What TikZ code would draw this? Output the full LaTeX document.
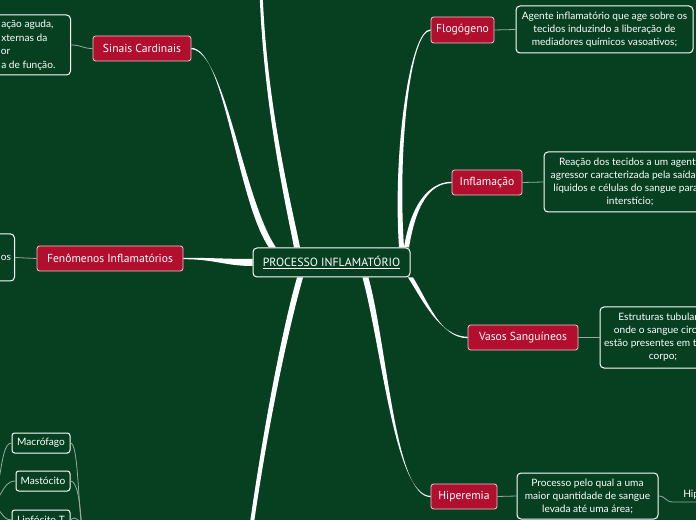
\documentclass[tikz,border=0pt]{standalone}
\usepackage{fontspec}
\setmainfont{Lato}
\newfontfamily\labelfont{PT Sans}
\usetikzlibrary{calc}

\definecolor{mapgreen}{RGB}{6,64,33}
\definecolor{topicred}{RGB}{178,14,45}
\definecolor{topicline}{RGB}{236,196,204}
\definecolor{connline}{RGB}{150,172,156}

% ramo afinado: de (#1) ate (#4), meia-largura #5 no inicio e #6 no fim
\newcommand{\branch}[6]{%
  \fill[white] ($(#1)+(#5)$) .. controls ($(#2)+(#5)$) and ($(#3)+(#6)$) .. ($(#4)+(#6)$)
    -- ($(#4)-(#6)$) .. controls ($(#3)-(#6)$) and ($(#2)-(#5)$) .. ($(#1)-(#5)$) -- cycle;}

\begin{document}
\begin{tikzpicture}[x=0.75pt,y=-0.75pt,
    topic/.style={draw=topicline,line width=0.6pt,fill=topicred,rounded corners=2pt,text=white,
      font=\labelfont\fontsize{8.7}{10}\selectfont,minimum height=18.75pt,inner sep=0pt},
    desc/.style={draw=white,line width=0.75pt,rounded corners=3pt,text=white,
      font=\fontsize{7.6}{9.75}\selectfont,align=center,inner sep=0pt},
    desctext/.style={text=white,font=\fontsize{7.6}{9.75}\selectfont,inner sep=0pt},
    leaf/.style={draw=white,line width=0.75pt,rounded corners=2pt,text=white,
      font=\fontsize{7.6}{9}\selectfont,minimum height=15pt,inner sep=0pt},
    conn/.style={draw=connline,line width=0.6pt}]
    % Fundo
    \useasboundingbox (0,0) rectangle (696,520);
    \clip (0,0) rectangle (696,520);
    \fill[mapgreen] (0,0) rectangle (696,520);

    % Centro
    \node[draw=white,line width=0.75pt,rounded corners=3pt,fill=mapgreen,text=white,
      minimum width=117.75pt,minimum height=21.75pt,
      font=\labelfont\fontsize{8.9}{10}\selectfont] (central) at (331.5,262.5) {\underline{PROCESSO INFLAMAT\'ORIO}};

    % Topicos
    \node[topic,minimum width=73.5pt] (sinais) at (142,48.5) {Sinais Cardinais};
    \node[topic,minimum width=109.5pt] (fenomenos) at (110,258.5) {Fen\^omenos Inflamat\'orios};
    \node[topic,minimum width=47.25pt,minimum height=19.5pt] (flogogeno) at (462.5,30) {Flog\'ogeno};
    \node[topic,minimum width=52.5pt] (inflamacao) at (487,182.5) {Inflama\c{c}\~ao};
    \node[topic,minimum width=82.5pt] (vasos) at (523,337.5) {Vasos Sangu\'ineos};
    \node[topic,minimum width=49.5pt] (hiperemia) at (464,496.5) {Hiperemia};

    % Descricoes
    \node[desc,anchor=east,minimum width=75pt,minimum height=45pt] (sinaistxt) at (71,45) {};
    \node[desctext,anchor=west] (sinaisA) at (1,25) {ação aguda,};
    \node[desctext,anchor=west] (sinaisB) at (1,38) {xternas da};
    \node[desctext,anchor=west] (sinaisC) at (0.5,52) {or};
    \node[desctext,anchor=west] (sinaisD) at (1,66) {a de função.};
    \node[desc,anchor=east,minimum width=30pt,minimum height=35.25pt] (fentxt) at (15,257.5) {};
    \node[desctext,anchor=west] (fenA) at (0.5,258) {os};
    \node[desc,minimum width=132.75pt,minimum height=35.25pt] (flogtxt) at (604.5,29.5)
      {Agente inflamatório que age sobre os\\tecidos induzindo a liberação de\\mediadores químicos vasoativos;};
    \node[desc,minimum width=129pt,minimum height=45pt] (inftxt) at (630,182)
      {Reação dos tecidos a um agente\\agressor caracterizada pela saída de\\líquidos e células do sangue para o\\interstício;};
    \node[desc,minimum width=94.5pt,minimum height=45.75pt] (vasostxt) at (663,337.5)
      {Estruturas tubulares\\onde o sangue circula,\\estão presentes em todo o\\corpo;};
    \node[desc,minimum width=105.75pt,minimum height=34.5pt] (hiptxt) at (587.5,496)
      {Processo pelo qual a uma\\maior quantidade de sangue\\levada até uma área;};
    \node[desctext,anchor=south west,inner xsep=7.5pt,inner ysep=2pt] (hipsub) at (673,502) {Hip};

    % Celulas
    \node[leaf,minimum width=43.5pt] (macrofago) at (41,443) {Macrófago};
    \node[leaf,minimum width=40.5pt] (mastocito) at (43,481) {Mastócito};
    \node[leaf,minimum width=43.5pt] (linfocito) at (41,520) {Linfócito T};

    % Pontos de chegada no centro
    \coordinate (cTop) at ($(central.north)+(-34.5,0)$);
    \coordinate (cSin) at ($(central.north west)+(20,0)$);
    \coordinate (cFlo) at ($(central.north east)+(-9,0)$);
    \coordinate (cInf) at ($(central.north east)+(-4,0)$);
    \coordinate (cHip) at ($(central.south)+(34,0)$);
    \coordinate (cBot) at ($(central.south)+(-31.5,0)$);
    \coordinate (topend) at (261,-10);
    \coordinate (botend) at (251,530);

    % Ramos principais
    \branch{topend}{265,110}{291,215}{cTop}{1.5,0}{3,0}
    \branch{sinais.east}{225,50}{240,200}{cSin}{0,0.7}{3.5,0}
    \branch{fenomenos.east}{215,258.5}{225,262.5}{central.west}{0,0.7}{0,3.5}
    \branch{flogogeno.west}{410,30}{395,150}{cFlo}{0,0.7}{2.5,0}
    \branch{inflamacao.west}{435,182.5}{415,195}{cInf}{0,0.7}{2.5,0}
    \branch{vasos.west}{440,337.5}{425,300}{central.south east}{0,0.7}{2.5,0}
    \branch{hiperemia.west}{395,496.5}{385,350}{cHip}{0,0.6}{3,0}
    \branch{botend}{265,430}{285,330}{cBot}{2,0}{3,0}

    % Ligacoes finas
    \draw[conn] (sinaistxt.east) .. controls (82,45) and (82,48.5) .. (sinais.west);
    \draw[conn] (fentxt.east) -- (fenomenos.west);
    \draw[conn] (flogogeno.east) -- (flogtxt.west);
    \draw[conn] (inflamacao.east) -- (inftxt.west);
    \draw[conn] (vasos.east) -- (vasostxt.west);
    \draw[conn] (hiperemia.east) -- (hiptxt.west);
    \draw[conn] (hiptxt.east) .. controls (666,496) and (665,502) .. (hipsub.south west) -- ++(40,0);

    % Celulas: ligacoes que saem da imagem
    \coordinate (celulas) at (-15,505);
    \coordinate (celdown) at (82,530);
    \draw[conn] (celulas) .. controls (3,505) and (-2,443) .. (macrofago.west);
    \draw[conn] (celulas) .. controls (3,505) and (0,481) .. (mastocito.west);
    \draw[conn] (celulas) .. controls (3,505) and (0,520) .. (linfocito.west);
    \draw[conn] (macrofago.east) .. controls (78,443) and (78,500) .. (celdown);
    \draw[conn] (mastocito.east) .. controls (77,481) and (80,500) .. (celdown);
    \draw[conn] (linfocito.east) .. controls (76,515) and (80,520) .. (celdown);
\end{tikzpicture}
\end{document}
